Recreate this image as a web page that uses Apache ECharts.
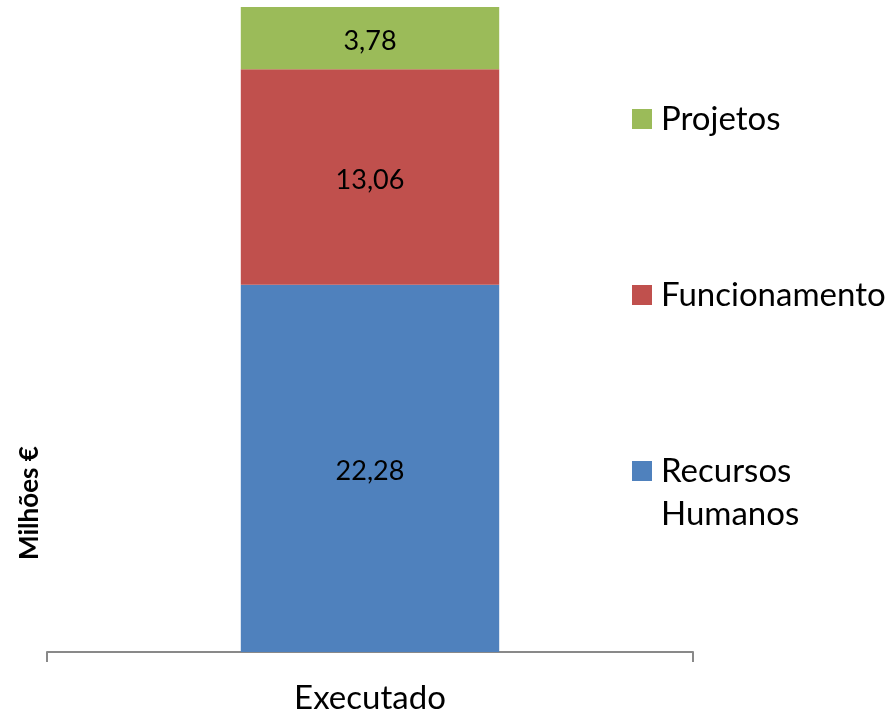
<!DOCTYPE html>
<html>
<head>
<meta charset="utf-8">
<script src="https://cdn.jsdelivr.net/npm/echarts@6/dist/echarts.min.js"></script>
<style>html,body{margin:0;padding:0;background:#fff;}#c{width:888px;height:716px;}</style>
</head>
<body>
<div id="c"></div>
<script>
var categories = ['Executado'];
var recursosHumanos = [22.28];
var funcionamento = [13.06];
var projetos = [3.78];
var seriesNames = ['Recursos Humanos', 'Funcionamento', 'Projetos'];
var yAxisTitle = 'Milhões €';

var FONT = 'Lato';
var chart = echarts.init(document.getElementById('c'), null, {renderer: 'canvas'});
var total = recursosHumanos[0] + funcionamento[0] + projetos[0];
function fmt(p) { return p.value.toFixed(2).replace('.', ','); }
var labelCfg = {show: true, position: 'inside', color: '#000', fontSize: 27, fontFamily: FONT, formatter: fmt, offset: [0, 3]};
var legendText = {color: '#000', fontSize: 33, fontFamily: FONT, lineHeight: 43,
  rich: {t: {color: '#000', fontSize: 33, fontFamily: FONT, lineHeight: 43, padding: [0, 0, 0, 4]}}};
function legendFmt(n) {
  var parts = n.split(' ');
  if (parts.length > 1) return '\n' + parts.map(function (p) { return '{t|' + p + '}'; }).join('\n');
  return '{t|' + n + '}';
}
chart.setOption({
  animation: false,
  backgroundColor: '#fff',
  grid: {left: 47, right: 195, top: 7, bottom: 64},
  xAxis: {
    type: 'category', data: categories,
    axisLine: {lineStyle: {color: '#898989', width: 2}},
    axisTick: {show: true, length: 10, lineStyle: {color: '#898989', width: 2}},
    axisLabel: {color: '#000', fontSize: 33, fontFamily: FONT, margin: 30}
  },
  yAxis: {type: 'value', min: 0, max: total, show: false},
  legend: [
    {data: [seriesNames[2]], orient: 'vertical', left: 632, top: 119 - 21.5, padding: 0, itemWidth: 20, itemHeight: 20, itemGap: 0, icon: 'rect', formatter: legendFmt, textStyle: legendText},
    {data: [seriesNames[1]], orient: 'vertical', left: 632, top: 295 - 21.5, padding: 0, itemWidth: 20, itemHeight: 20, itemGap: 0, icon: 'rect', formatter: legendFmt, textStyle: legendText},
    {data: [seriesNames[0]], orient: 'vertical', left: 632, top: 471 - 64.5, padding: 0, itemWidth: 20, itemHeight: 20, itemGap: 0, icon: 'rect', formatter: legendFmt, textStyle: legendText}
  ],
  graphic: [{
    type: 'text', x: 30, y: 503, rotation: Math.PI / 2,
    style: {text: yAxisTitle, fontSize: 26, fontWeight: 'bold', fontFamily: FONT, fill: '#000', align: 'center', verticalAlign: 'middle'}
  }],
  series: [
    {name: seriesNames[0], type: 'bar', stack: 's', data: recursosHumanos, barWidth: '40%', itemStyle: {color: '#4F81BD'}, label: labelCfg},
    {name: seriesNames[1], type: 'bar', stack: 's', data: funcionamento, barWidth: '40%', itemStyle: {color: '#C0504D'}, label: labelCfg},
    {name: seriesNames[2], type: 'bar', stack: 's', data: projetos, barWidth: '40%', itemStyle: {color: '#9BBB59'}, label: labelCfg}
  ]
});
</script>
</body>
</html>
